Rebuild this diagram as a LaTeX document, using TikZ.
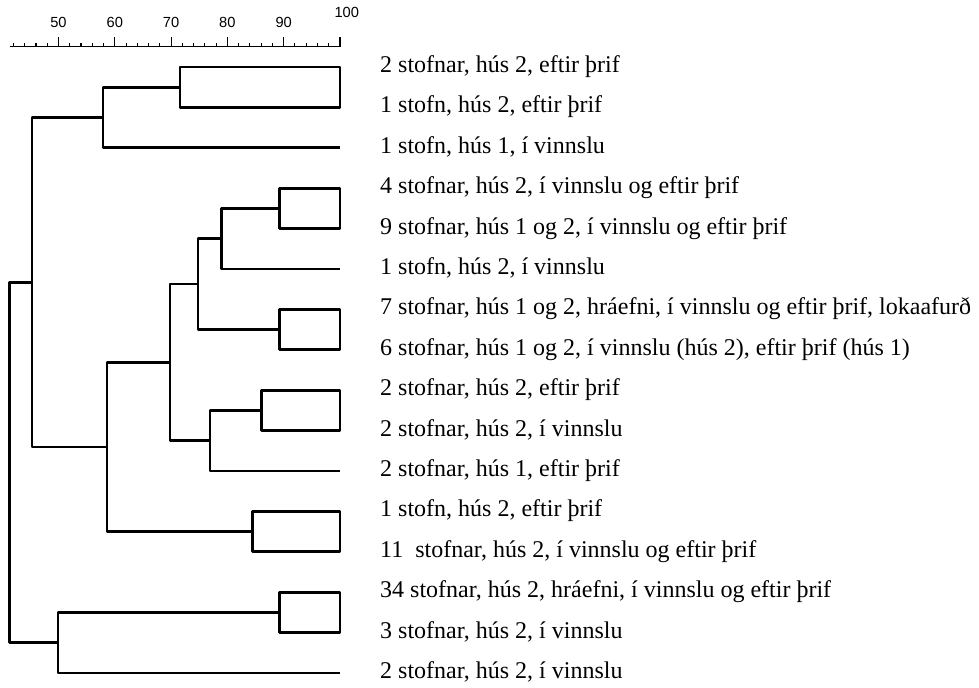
\documentclass[tikz,border=0pt]{standalone}
\usepackage{fontspec}
\setmainfont{Liberation Serif}
\newfontfamily\axisfont{Liberation Sans}
\begin{document}
\begin{tikzpicture}[x=4.2225pt, y=-30.3pt,
  branch/.style={line width=2pt, line join=round},
  lbl/.style={anchor=mid west, inner sep=0pt, yshift=-1.9pt, font=\fontsize{18}{20}\selectfont},
  num/.style={anchor=base, inner sep=0pt, font=\axisfont\fontsize{11}{12}\selectfont}]

\useasboundingbox (39.61,-0.658) rectangle (213.5,16.371);

\draw[line width=0.8pt] (41.3,0.5) -- (100,0.5);

\foreach \v in {42,44,...,100} \draw[line width=0.8pt] (\v,0.5) -- (\v,0.4);

\foreach \v in {50,60,...,100} \draw[line width=0.8pt] (\v,0.5) -- (\v,0.25);

\foreach \v in {50,60,70,80,90} \node[num] (n\v) at (\v,0.035) {\v};

\node[num] (n100) at (101.2,-0.213) {100};

\foreach \i in {1,...,16} \coordinate (leaf\i) at (100,\i);

\coordinate (j1) at (71.6,1.5);
\coordinate (j2) at (57.9,2.25);
\coordinate (j3) at (89.2,4.5);
\coordinate (j4) at (79.0,5.25);
\coordinate (j5) at (89.2,7.5);
\coordinate (j6) at (74.8,6.375);
\coordinate (j7) at (86.0,9.5);
\coordinate (j8) at (76.9,10.25);
\coordinate (j9) at (69.8,8.3125);
\coordinate (j10) at (84.4,12.5);
\coordinate (j11) at (58.6,10.40625);
\coordinate (j12) at (45.3,6.328);
\coordinate (j13) at (89.2,14.5);
\coordinate (j14) at (49.9,15.25);
\coordinate (j15) at (41.3,10.789);

\draw[branch] (j1) |- (leaf1) -- (leaf2) -| (j1);

\draw[branch] (j1) -| (j2) |- (leaf3);

\draw[branch] (j3) |- (leaf4) -- (leaf5) -| (j3);

\draw[branch] (j3) -| (j4) |- (leaf6);

\draw[branch] (j5) |- (leaf7) -- (leaf8) -| (j5);

\draw[branch] (j4) -| (j6) |- (j5);

\draw[branch] (j7) |- (leaf9) -- (leaf10) -| (j7);

\draw[branch] (j7) -| (j8) |- (leaf11);

\draw[branch] (j6) -| (j9) |- (j8);

\draw[branch] (j10) |- (leaf12) -- (leaf13) -| (j10);

\draw[branch] (j9) -| (j11) |- (j10);

\draw[branch] (j2) -| (j12) |- (j11);

\draw[branch] (j13) |- (leaf14) -- (leaf15) -| (j13);

\draw[branch] (j13) -| (j14) |- (leaf16);

\draw[branch] (j12) -| (j15) |- (j14);

\node[lbl] (t1) at (107.1,1) {2 stofnar, hús 2, eftir þrif};

\node[lbl] (t2) at (107.1,2) {1 stofn, hús 2, eftir þrif};

\node[lbl] (t3) at (107.1,3) {1 stofn, hús 1, í vinnslu};

\node[lbl] (t4) at (107.1,4) {4 stofnar, hús 2, í vinnslu og eftir þrif};

\node[lbl] (t5) at (107.1,5) {9 stofnar, hús 1 og 2, í vinnslu og eftir þrif};

\node[lbl] (t6) at (107.1,6) {1 stofn, hús 2, í vinnslu};

\node[lbl] (t7) at (107.1,7) {7 stofnar, hús 1 og 2, hráefni, í vinnslu og eftir þrif, lokaafurð};

\node[lbl] (t8) at (107.1,8) {6 stofnar, hús 1 og 2, í vinnslu (hús 2), eftir þrif (hús 1)};

\node[lbl] (t9) at (107.1,9) {2 stofnar, hús 2, eftir þrif};

\node[lbl] (t10) at (107.1,10) {2 stofnar, hús 2, í vinnslu};

\node[lbl] (t11) at (107.1,11) {2 stofnar, hús 1, eftir þrif};

\node[lbl] (t12) at (107.1,12) {1 stofn, hús 2, eftir þrif};

\node[lbl] (t13) at (107.1,13) {11\ \ stofnar, hús 2, í vinnslu og eftir þrif};

\node[lbl] (t14) at (107.1,14) {34 stofnar, hús 2, hráefni, í vinnslu og eftir þrif};

\node[lbl] (t15) at (107.1,15) {3 stofnar, hús 2, í vinnslu};

\node[lbl] (t16) at (107.1,16) {2 stofnar, hús 2, í vinnslu};

\end{tikzpicture}
\end{document}
